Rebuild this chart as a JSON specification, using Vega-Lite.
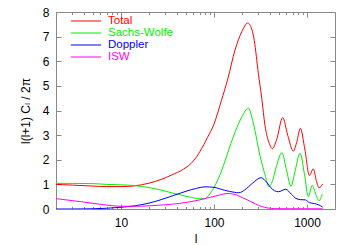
{
  "$schema": "https://vega.github.io/schema/vega-lite/v6.json",
  "width": 279,
  "height": 197,
  "autosize": {"type": "none"},
  "padding": {"left": 56, "top": 12, "right": 14, "bottom": 36},
  "background": "white",
  "config": {
    "view": {"stroke": "#888888", "strokeWidth": 1},
    "font": "Liberation Sans",
    "axis": {
      "domain": false,
      "grid": false,
      "tickColor": "#888888",
      "labelColor": "#000000",
      "labelFont": "Liberation Sans",
      "labelFontSize": 12,
      "titleFont": "Liberation Sans, DejaVu Sans",
      "titleFontWeight": "normal",
      "titleFontSize": 12,
      "titleColor": "#000000"
    }
  },
  "data": {
    "values": [
      {"s": "Total", "l": 2, "v": 1.00}, {"s": "Total", "l": 3, "v": 0.97}, {"s": "Total", "l": 5, "v": 0.93}, {"s": "Total", "l": 7, "v": 0.91}, {"s": "Total", "l": 10, "v": 0.91}, {"s": "Total", "l": 14, "v": 0.94}, {"s": "Total", "l": 20, "v": 1.05}, {"s": "Total", "l": 27, "v": 1.20}, {"s": "Total", "l": 35, "v": 1.38}, {"s": "Total", "l": 47, "v": 1.62}, {"s": "Total", "l": 60, "v": 1.95}, {"s": "Total", "l": 71, "v": 2.35}, {"s": "Total", "l": 85, "v": 2.9}, {"s": "Total", "l": 100, "v": 3.45}, {"s": "Total", "l": 120, "v": 4.4}, {"s": "Total", "l": 141, "v": 5.3}, {"s": "Total", "l": 168, "v": 6.45}, {"s": "Total", "l": 199, "v": 7.2}, {"s": "Total", "l": 230, "v": 7.55}, {"s": "Total", "l": 255, "v": 7.3}, {"s": "Total", "l": 271, "v": 6.84}, {"s": "Total", "l": 300, "v": 5.5}, {"s": "Total", "l": 326, "v": 4.5}, {"s": "Total", "l": 353, "v": 3.4}, {"s": "Total", "l": 390, "v": 2.7}, {"s": "Total", "l": 424, "v": 2.45}, {"s": "Total", "l": 470, "v": 2.8}, {"s": "Total", "l": 548, "v": 3.71}, {"s": "Total", "l": 620, "v": 3.0}, {"s": "Total", "l": 713, "v": 2.35}, {"s": "Total", "l": 780, "v": 2.75}, {"s": "Total", "l": 847, "v": 3.28}, {"s": "Total", "l": 950, "v": 2.4}, {"s": "Total", "l": 1060, "v": 1.36}, {"s": "Total", "l": 1170, "v": 1.63}, {"s": "Total", "l": 1260, "v": 1.15}, {"s": "Total", "l": 1346, "v": 0.86}, {"s": "Total", "l": 1475, "v": 1.02},

      {"s": "Sachs-Wolfe", "l": 2, "v": 1.04}, {"s": "Sachs-Wolfe", "l": 3, "v": 1.04}, {"s": "Sachs-Wolfe", "l": 5, "v": 1.03}, {"s": "Sachs-Wolfe", "l": 7, "v": 1.00}, {"s": "Sachs-Wolfe", "l": 10, "v": 0.98}, {"s": "Sachs-Wolfe", "l": 14, "v": 0.95}, {"s": "Sachs-Wolfe", "l": 20, "v": 0.87}, {"s": "Sachs-Wolfe", "l": 27, "v": 0.77}, {"s": "Sachs-Wolfe", "l": 35, "v": 0.66}, {"s": "Sachs-Wolfe", "l": 45, "v": 0.56}, {"s": "Sachs-Wolfe", "l": 57, "v": 0.47}, {"s": "Sachs-Wolfe", "l": 68, "v": 0.42}, {"s": "Sachs-Wolfe", "l": 78, "v": 0.41}, {"s": "Sachs-Wolfe", "l": 90, "v": 0.6}, {"s": "Sachs-Wolfe", "l": 100, "v": 0.88}, {"s": "Sachs-Wolfe", "l": 115, "v": 1.35}, {"s": "Sachs-Wolfe", "l": 130, "v": 1.9}, {"s": "Sachs-Wolfe", "l": 160, "v": 2.9}, {"s": "Sachs-Wolfe", "l": 200, "v": 3.75}, {"s": "Sachs-Wolfe", "l": 234, "v": 4.1}, {"s": "Sachs-Wolfe", "l": 264, "v": 3.5}, {"s": "Sachs-Wolfe", "l": 313, "v": 2.15}, {"s": "Sachs-Wolfe", "l": 353, "v": 1.4}, {"s": "Sachs-Wolfe", "l": 390, "v": 0.9}, {"s": "Sachs-Wolfe", "l": 430, "v": 1.2}, {"s": "Sachs-Wolfe", "l": 470, "v": 1.75}, {"s": "Sachs-Wolfe", "l": 538, "v": 2.29}, {"s": "Sachs-Wolfe", "l": 600, "v": 1.6}, {"s": "Sachs-Wolfe", "l": 673, "v": 0.92}, {"s": "Sachs-Wolfe", "l": 740, "v": 1.5}, {"s": "Sachs-Wolfe", "l": 841, "v": 2.26}, {"s": "Sachs-Wolfe", "l": 940, "v": 1.4}, {"s": "Sachs-Wolfe", "l": 1033, "v": 0.51}, {"s": "Sachs-Wolfe", "l": 1140, "v": 0.96}, {"s": "Sachs-Wolfe", "l": 1240, "v": 0.6}, {"s": "Sachs-Wolfe", "l": 1346, "v": 0.34}, {"s": "Sachs-Wolfe", "l": 1460, "v": 0.61},

      {"s": "Doppler", "l": 2, "v": 0.0}, {"s": "Doppler", "l": 3, "v": 0.0}, {"s": "Doppler", "l": 4, "v": 0.005}, {"s": "Doppler", "l": 5, "v": 0.01}, {"s": "Doppler", "l": 7, "v": 0.03}, {"s": "Doppler", "l": 10, "v": 0.07}, {"s": "Doppler", "l": 14, "v": 0.13}, {"s": "Doppler", "l": 20, "v": 0.24}, {"s": "Doppler", "l": 27, "v": 0.38}, {"s": "Doppler", "l": 38, "v": 0.57}, {"s": "Doppler", "l": 50, "v": 0.72}, {"s": "Doppler", "l": 65, "v": 0.84}, {"s": "Doppler", "l": 80, "v": 0.9}, {"s": "Doppler", "l": 100, "v": 0.88}, {"s": "Doppler", "l": 130, "v": 0.76}, {"s": "Doppler", "l": 165, "v": 0.68}, {"s": "Doppler", "l": 185, "v": 0.66}, {"s": "Doppler", "l": 215, "v": 0.78}, {"s": "Doppler", "l": 260, "v": 1.05}, {"s": "Doppler", "l": 320, "v": 1.27}, {"s": "Doppler", "l": 370, "v": 1.08}, {"s": "Doppler", "l": 410, "v": 0.86}, {"s": "Doppler", "l": 491, "v": 0.7}, {"s": "Doppler", "l": 590, "v": 0.8}, {"s": "Doppler", "l": 680, "v": 0.6}, {"s": "Doppler", "l": 760, "v": 0.43}, {"s": "Doppler", "l": 850, "v": 0.38}, {"s": "Doppler", "l": 960, "v": 0.37}, {"s": "Doppler", "l": 1060, "v": 0.26}, {"s": "Doppler", "l": 1200, "v": 0.22}, {"s": "Doppler", "l": 1330, "v": 0.17}, {"s": "Doppler", "l": 1475, "v": 0.08},

      {"s": "ISW", "l": 2, "v": 0.42}, {"s": "ISW", "l": 3, "v": 0.34}, {"s": "ISW", "l": 4, "v": 0.28}, {"s": "ISW", "l": 5, "v": 0.23}, {"s": "ISW", "l": 7, "v": 0.16}, {"s": "ISW", "l": 10, "v": 0.11}, {"s": "ISW", "l": 14, "v": 0.11}, {"s": "ISW", "l": 20, "v": 0.13}, {"s": "ISW", "l": 30, "v": 0.17}, {"s": "ISW", "l": 43, "v": 0.23}, {"s": "ISW", "l": 55, "v": 0.29}, {"s": "ISW", "l": 70, "v": 0.37}, {"s": "ISW", "l": 90, "v": 0.47}, {"s": "ISW", "l": 115, "v": 0.57}, {"s": "ISW", "l": 137, "v": 0.63}, {"s": "ISW", "l": 165, "v": 0.6}, {"s": "ISW", "l": 200, "v": 0.47}, {"s": "ISW", "l": 240, "v": 0.33}, {"s": "ISW", "l": 280, "v": 0.2}, {"s": "ISW", "l": 320, "v": 0.11}, {"s": "ISW", "l": 380, "v": 0.04}, {"s": "ISW", "l": 450, "v": 0.015}, {"s": "ISW", "l": 600, "v": 0.01}, {"s": "ISW", "l": 1000, "v": 0.01}, {"s": "ISW", "l": 1475, "v": 0.01}
    ]
  },
  "resolve": {"axis": {"x": "independent", "y": "independent"}},
  "layer": [
    {
      "mark": {"type": "line", "strokeWidth": 1, "interpolate": "monotone", "clip": true},
      "encoding": {
        "x": {
          "field": "l", "type": "quantitative",
          "scale": {"type": "log", "domain": [2, 2000], "nice": false},
          "axis": {
            "orient": "bottom", "values": [10, 100, 1000], "format": "d", "tickSize": -5, "labelPadding": 13,
            "labelOverlap": false, "labelFlush": false,
            "title": "l", "titleX": 139.5, "titleY": 29, "titleBaseline": "middle", "titleAlign": "center"
          }
        },
        "y": {
          "field": "v", "type": "quantitative",
          "scale": {"domain": [0, 8], "nice": false, "zero": false},
          "axis": {
            "orient": "left", "values": [0, 1, 2, 3, 4, 5, 6, 7, 8], "tickSize": -5, "labelPadding": 12,
            "labelOverlap": false, "labelFlush": false,
            "title": "l(l+1) Cₗ / 2π", "titleX": -31, "titleY": 98.5, "titleBaseline": "middle", "titleAlign": "center", "titleAngle": -90
          }
        },
        "color": {
          "field": "s", "type": "nominal",
          "scale": {"domain": ["Total", "Sachs-Wolfe", "Doppler", "ISW"], "range": ["#ff0000", "#00ee00", "#0000ff", "#ff00ff"]},
          "legend": {
            "title": null, "orient": "none", "legendX": 24, "legendY": 3, "padding": 0,
            "symbolType": "M-2.75,0H2.75", "symbolSize": 121, "symbolStrokeWidth": 1,
            "labelFont": "Liberation Sans", "labelFontSize": 11.5, "labelOffset": 16, "labelAlign": "left", "rowPadding": -0.3,
            "encode": {"labels": {"update": {"fill": {"scale": "color", "field": "value"}, "align": {"value": "left"}}}}
          }
        }
      }
    },
    {
      "mark": {"type": "line", "opacity": 0},
      "encoding": {
        "x": {
          "field": "l", "type": "quantitative",
          "scale": {"type": "log", "domain": [2, 2000], "nice": false},
          "axis": {"orient": "bottom", "values": [2, 3, 4, 5, 6, 7, 8, 9, 20, 30, 40, 50, 60, 70, 80, 90, 200, 300, 400, 500, 600, 700, 800, 900], "tickSize": -2.5, "labels": false, "title": null}
        },
        "y": {
          "field": "v", "type": "quantitative",
          "scale": {"domain": [0, 8], "nice": false, "zero": false},
          "axis": {"orient": "right", "values": [0, 1, 2, 3, 4, 5, 6, 7, 8], "tickSize": -5, "labels": false, "title": null}
        },
        "detail": {"field": "s"}
      }
    },
    {
      "mark": {"type": "line", "opacity": 0},
      "encoding": {
        "x": {
          "field": "l", "type": "quantitative",
          "scale": {"type": "log", "domain": [2, 2000], "nice": false},
          "axis": {"orient": "top", "values": [10, 100, 1000], "tickSize": -5, "labels": false, "title": null}
        },
        "y": {"field": "v", "type": "quantitative", "axis": null},
        "detail": {"field": "s"}
      }
    },
    {
      "mark": {"type": "line", "opacity": 0},
      "encoding": {
        "x": {
          "field": "l", "type": "quantitative",
          "scale": {"type": "log", "domain": [2, 2000], "nice": false},
          "axis": {"orient": "top", "values": [2, 3, 4, 5, 6, 7, 8, 9, 20, 30, 40, 50, 60, 70, 80, 90, 200, 300, 400, 500, 600, 700, 800, 900], "tickSize": -2.5, "labels": false, "title": null}
        },
        "y": {"field": "v", "type": "quantitative", "axis": null},
        "detail": {"field": "s"}
      }
    }
  ]
}
